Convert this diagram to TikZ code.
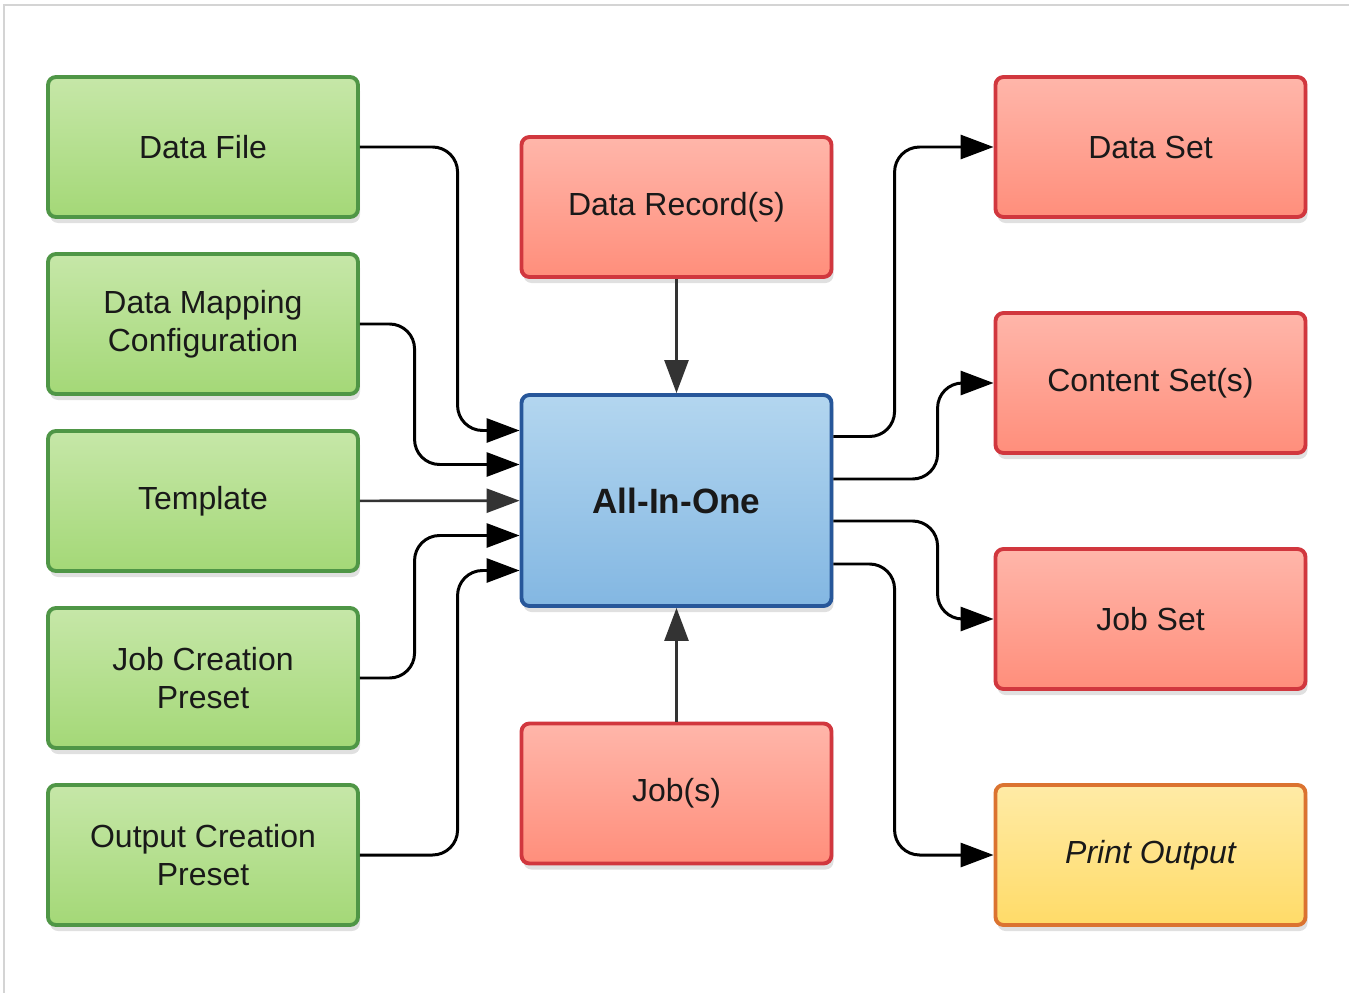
\documentclass[tikz,border=0pt]{standalone}
\usepackage{fontspec}
\setmainfont{Liberation Sans}
\usetikzlibrary{arrows.meta,shadows}

\definecolor{greentop}{HTML}{C6E7A8}
\definecolor{greenbot}{HTML}{A4D877}
\definecolor{greenline}{HTML}{4F9646}
\definecolor{redtop}{HTML}{FFB6AA}
\definecolor{redbot}{HTML}{FF8E7B}
\definecolor{redline}{HTML}{D1373E}
\definecolor{bluetop}{HTML}{B3D6EF}
\definecolor{bluebot}{HTML}{83B7E2}
\definecolor{blueline}{HTML}{27579A}
\definecolor{yellowtop}{HTML}{FFEBA6}
\definecolor{yellowbot}{HTML}{FFDB68}
\definecolor{yellowline}{HTML}{DB7330}
\definecolor{framegray}{HTML}{D4D4D4}

\tikzset{
  box/.style={draw, rounded corners=0.16cm, line width=2.2pt,
    minimum width=6.2cm, minimum height=2.8cm, align=center,
    font=\fontsize{18.2}{21.6}\selectfont, text=black!90,
    drop shadow={shadow xshift=0.04cm, shadow yshift=-0.12cm, opacity=0.12, fill=black}},
  input/.style={box, draw=greenline, top color=greentop, bottom color=greenbot},
  output/.style={box, draw=redline, top color=redtop, bottom color=redbot},
  main/.style={box, draw=blueline, top color=bluetop, bottom color=bluebot,
    minimum height=4.22cm, font=\fontsize{20}{24}\selectfont\bfseries},
  print/.style={box, draw=yellowline, top color=yellowtop, bottom color=yellowbot,
    font=\fontsize{18.2}{21.6}\selectfont\itshape},
  link/.style={line width=1.7pt, rounded corners=0.5cm,
    -{Triangle[length=0.66cm,width=0.48cm]}},
  feed/.style={line width=1.5pt, draw=black!80,
    -{Triangle[length=0.66cm,width=0.48cm,fill=black!80]}}
}

\begin{document}
\begin{tikzpicture}
          \useasboundingbox (0,0) rectangle (26.98,-19.86);
          \draw[framegray, line width=1.2pt] (0.08,-19.86) |- (26.98,-0.1);

          \node[input] (1) at (4.06,-2.94) {Data File};
          \node[input,below of=1,node distance=3.54cm] (2) {Data Mapping\\Configuration};
          \node[input,below of=2,node distance=3.54cm] (3) {Template};
          \node[input,below of=3,node distance=3.54cm] (4) {Job Creation\\Preset};
          \node[input,below of=4,node distance=3.54cm] (5) {Output Creation\\Preset};

          \node[main] (7) at (13.53,-10.01) {All-In-One};
          \node[output,above of=7,node distance=5.87cm] (6) {Data Record(s)};
          \node[output,below of=7,node distance=5.86cm] (8) {Job(s)};

          \node[output] (9) at (23.01,-2.94) {Data Set};
          \node[output,below of=9,node distance=4.72cm] (10) {Content Set(s)};
          \node[output,below of=10,node distance=4.72cm] (11) {Job Set};
          \node[print,below of=11,node distance=4.72cm] (12) {Print Output};

          \draw[feed] (6) -- (7);
          \draw[feed] (8) -- (7);
          \draw[feed] (3) -- (7);

          \draw[link] (1.east) -| ([xshift=-1.24cm,yshift=1.4cm]7.west) -- ([yshift=1.4cm]7.west);
          \draw[link] (2.east) -| ([xshift=-2.1cm,yshift=0.72cm]7.west) -- ([yshift=0.72cm]7.west);
          \draw[link] (4.east) -| ([xshift=-2.1cm,yshift=-0.7cm]7.west) -- ([yshift=-0.7cm]7.west);
          \draw[link] (5.east) -| ([xshift=-1.24cm,yshift=-1.4cm]7.west) -- ([yshift=-1.4cm]7.west);

          \draw[link] ([yshift=1.28cm]7.east) -| ([xshift=-1.98cm]9.west) -- (9.west);
          \draw[link] ([yshift=0.43cm]7.east) -| ([xshift=-1.12cm]10.west) -- (10.west);
          \draw[link] ([yshift=-0.41cm]7.east) -| ([xshift=-1.12cm]11.west) -- (11.west);
          \draw[link] ([yshift=-1.27cm]7.east) -| ([xshift=-1.98cm]12.west) -- (12.west);
        \end{tikzpicture}
\end{document}
